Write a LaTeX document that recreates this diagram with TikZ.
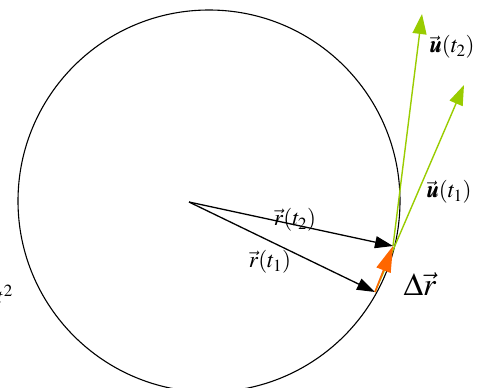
\documentclass[tikz,border=0pt]{standalone}
\usepackage{amsmath}
\usepackage{mathptmx}
\usepackage{bm}
\usetikzlibrary{arrows.meta}
\definecolor{vgreen}{HTML}{99CC00}
\definecolor{vorange}{HTML}{FF6600}
\tikzset{
  rvec/.style={line width=1.3pt,-{Triangle[length=18pt,width=12pt]}},
  uvec/.style={vgreen,line width=1.4pt,-{Triangle[length=20pt,width=14pt]}},
  dvec/.style={vorange,line width=1.6pt,-{Triangle[length=26pt,width=15pt]}},
  lbl/.style={inner sep=0pt,font=\fontsize{23}{27}\selectfont}
}
\begin{document}
\begin{tikzpicture}[x=1pt,y=-1pt]
\useasboundingbox (0,0) rectangle (488,388);
\clip (0,0) rectangle (488,388);
\draw[line width=1.1pt] (209,201) circle (191);
\coordinate (O) at (189,202);
\coordinate (P1) at (375,292);
\coordinate (P2) at (393,246);
\coordinate (U1) at (464,85);
\coordinate (U2) at (422,14);
\draw[uvec] (P2) -- (U2);
\draw[uvec] (P1) -- (U1);
\draw[rvec] (O) -- (P2);
\draw[rvec] (O) -- (P1);
\draw[dvec] (P1) -- (P2);
\node[lbl] (lu2) at (452,47) {$\vec{\bm{u}}(t_2)$};
\node[lbl] (lu1) at (449,192) {$\vec{\bm{u}}(t_1)$};
\node[lbl] (lr2) at (295,220) {$\vec{r}(t_2)$};
\node[lbl] (lr1) at (270,262) {$\vec{r}(t_1)$};
\node[inner sep=0pt,font=\fontsize{32}{36}\selectfont] (ldr) at (420,284) {$\Delta\vec{r}$};
\node[lbl,anchor=east] (lt) at (13,295) {$t^{2}$};
\end{tikzpicture}
\end{document}
